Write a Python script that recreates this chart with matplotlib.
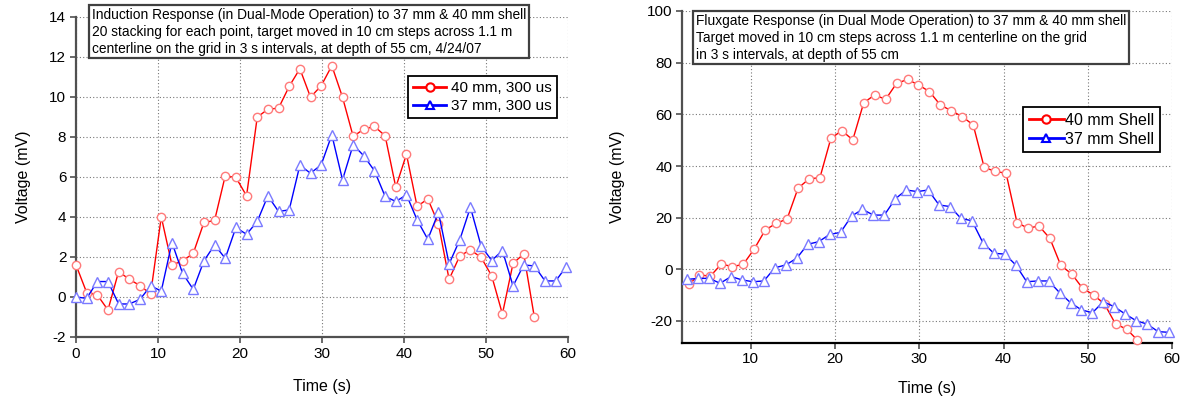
import numpy as np
import matplotlib
matplotlib.use("Agg")
import matplotlib.pyplot as plt
from matplotlib.lines import Line2D

plt.rcParams['font.family'] = ['Liberation Sans', 'DejaVu Sans']
plt.rcParams['axes.unicode_minus'] = False

# sampling step of the scans (s)
step_s = 1.3

# induction response (mV), one value per sample, starting at t = 0
ind_40mm = [1.6, 0.22, 0.1, -0.65, 1.27, 0.88, 0.57, 0.15, 4.0, 1.6,
            1.8, 2.18, 3.72, 3.82, 6.05, 5.97, 5.05, 8.98, 9.38, 9.43,
            10.52, 11.4, 9.98, 10.55, 11.55, 9.98, 8.02, 8.38, 8.52, 8.05,
            5.48, 7.13, 4.52, 4.9, 3.65, 0.88, 2.05, 2.35, 1.98, 1.05,
            -0.85, 1.68, 2.15, -1.02]
ind_37mm = [0.0, -0.07, 0.77, 0.77, -0.35, -0.35, -0.12, 0.55, 0.3, 2.72,
            1.18, 0.38, 1.8, 2.6, 1.93, 3.47, 3.13, 3.77, 5.05, 4.27,
            4.35, 6.58, 6.18, 6.6, 8.1, 5.85, 7.6, 7.05, 6.3, 5.02,
            4.77, 5.1, 3.85, 2.88, 4.22, 1.65, 2.85, 4.48, 2.55, 1.82,
            2.32, 0.55, 1.6, 1.55, 0.8, 0.8, 1.52]

# fluxgate response (mV), starting at sample 2
flux_40mm = [-5.8, -2.2, -2.6, 2.06, 1.03, 1.94, 7.87, 15.2, 17.8, 19.5,
             31.4, 35.0, 35.5, 50.7, 53.7, 50.1, 64.5, 67.5, 65.8, 72.0,
             73.5, 71.4, 68.8, 63.6, 61.4, 59.1, 55.9, 39.5, 37.9, 37.2,
             18.1, 15.9, 16.8, 12.0, 1.5, -1.8, -7.4, -9.9, -13.5, -21.2,
             -23.1, -27.4]
flux_37mm = [-3.9, -3.5, -3.5, -5.4, -2.8, -4.1, -4.8, -4.5, 0.6, 1.7,
             4.3, 9.7, 10.7, 13.5, 14.3, 20.6, 23.2, 21.0, 21.0, 27.3,
             30.7, 30.1, 30.7, 24.9, 24.3, 19.7, 18.8, 10.3, 6.2, 5.9,
             1.7, -4.8, -4.5, -4.5, -9.0, -12.9, -15.7, -16.8, -12.5, -14.5,
             -17.3, -19.9, -21.2, -24.1, -24.4]
flux_37_shift = -0.15

ind_labels = ["40 mm, 300 us", "37 mm, 300 us"]
flux_labels = ["40 mm Shell", "37 mm Shell"]

ind_note = ("Induction Response (in Dual-Mode Operation) to 37 mm & 40 mm shell\n"
            "20 stacking for each point, target moved in 10 cm steps across 1.1 m\n"
            "centerline on the grid in 3 s intervals, at depth of 55 cm, 4/24/07")
flux_note = ("Fluxgate Response (in Dual Mode Operation) to 37 mm & 40 mm shell\n"
             "Target moved in 10 cm steps across 1.1 m centerline on the grid\n"
             "in 3 s intervals, at depth of 55 cm")

t_ind40 = np.arange(len(ind_40mm)) * step_s
t_ind37 = np.arange(len(ind_37mm)) * step_s
t_flux40 = np.arange(2, 2 + len(flux_40mm)) * step_s
t_flux37 = np.arange(2, 2 + len(flux_37mm)) * step_s + flux_37_shift

W, H = 1185, 404
fig = plt.figure(figsize=(W / 100, H / 100), dpi=100)

def px_axes(x0, x1, ytop, ybot):
    return fig.add_axes([x0 / W, 1 - ybot / H, (x1 - x0) / W, (ybot - ytop) / H])

def style_axes(ax):
    for s in ['top', 'right']:
        ax.spines[s].set_visible(False)
    for s in ['left', 'bottom']:
        ax.spines[s].set_color('#505050')
        ax.spines[s].set_linewidth(1.6)
    ax.tick_params(direction='out', length=4, width=1.2, color='#505050',
                   labelsize=11, pad=3)
    ax.grid(True, linestyle=(0, (1, 2)), color='#777777', linewidth=0.8)
    ax.set_axisbelow(True)

def draw_series(ax, t, y, color, light, marker, ms):
    ax.plot(t, y, color=color, lw=1.0, marker=marker, ms=ms,
            mfc='white', mec=light, mew=1.0, clip_on=False, zorder=3)

def legend_handles(labels):
    return [Line2D([], [], color='red', lw=2, marker='o', ms=6, mfc='white',
                   mec='red', mew=1.5, label=labels[0]),
            Line2D([], [], color='blue', lw=2, marker='^', ms=6, mfc='white',
                   mec='blue', mew=1.5, label=labels[1])]

# ---- induction ----
ax1 = px_axes(76, 568, 16.7, 337)
style_axes(ax1)
draw_series(ax1, t_ind40, ind_40mm, 'red', '#ff7a7a', 'o', 6)
draw_series(ax1, t_ind37, ind_37mm, 'blue', '#7a7aff', '^', 6.5)
ax1.set_xlim(0, 60)
ax1.set_ylim(-2, 14)
ax1.set_xticks(np.arange(0, 61, 10))
ax1.set_yticks(np.arange(-2, 15, 2))
ax1.set_xlabel("Time (s)", fontsize=11.5)
ax1.set_ylabel("Voltage (mV)", fontsize=11.5)
ax1.xaxis.set_label_coords(0.5, -0.13)
ax1.yaxis.set_label_coords(-0.092, 0.5)
leg1 = ax1.legend(handles=legend_handles(ind_labels), loc='upper right',
                  bbox_to_anchor=(0.978, 0.815), fontsize=11, frameon=True,
                  fancybox=False, edgecolor='black', framealpha=1,
                  handlelength=2.2, handletextpad=0.3, borderpad=0.35,
                  labelspacing=0.25, borderaxespad=0)
leg1.get_frame().set_linewidth(1.3)
fig.text(92 / W, 1 - 8 / H, ind_note, fontsize=9.9, va='top', ha='left',
         linespacing=1.25,
         bbox=dict(boxstyle='square,pad=0.2', fc='white', ec='#404040', lw=1.6))

# ---- fluxgate ----
ax2 = px_axes(682.3, 1172, 11, 342.7)
style_axes(ax2)
ax2.spines['bottom'].set_color('black')
draw_series(ax2, t_flux40, flux_40mm, 'red', '#ff7a7a', 'o', 6)
draw_series(ax2, t_flux37, flux_37mm, 'blue', '#7a7aff', '^', 6.5)
ax2.set_xlim(1.86, 60)
ax2.set_ylim(-28.4, 100)
ax2.set_xticks(np.arange(10, 61, 10))
ax2.set_yticks(np.arange(-20, 101, 20))
ax2.set_xlabel("Time (s)", fontsize=11.5)
ax2.set_ylabel("Voltage (mV)", fontsize=11.5)
ax2.xaxis.set_label_coords(0.5, -0.115)
ax2.yaxis.set_label_coords(-0.117, 0.5)
leg2 = ax2.legend(handles=legend_handles(flux_labels), loc='upper right',
                  bbox_to_anchor=(0.9755, 0.7106), fontsize=11.5, frameon=True,
                  fancybox=False, edgecolor='black', framealpha=1,
                  handlelength=2.2, handletextpad=0.1, borderpad=0.35,
                  labelspacing=0.25, borderaxespad=0)
leg2.get_frame().set_linewidth(1.3)
fig.text(696 / W, 1 - 14 / H, flux_note, fontsize=9.9, va='top', ha='left',
         linespacing=1.25,
         bbox=dict(boxstyle='square,pad=0.2', fc='white', ec='#404040', lw=1.6))

fig.savefig("out.png", dpi=100)
